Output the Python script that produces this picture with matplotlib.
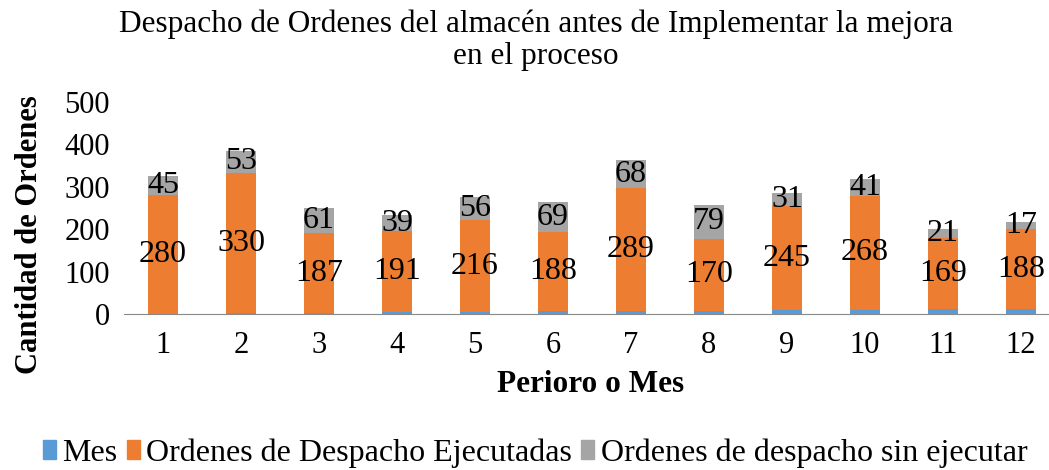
import matplotlib.pyplot as plt
import numpy as np
from matplotlib.patches import Patch

meses = np.arange(1, 13)
ejecutadas = [280, 330, 187, 191, 216, 188, 289, 170, 245, 268, 169, 188]
sin_ejecutar = [45, 53, 61, 39, 56, 69, 68, 79, 31, 41, 21, 17]
tick_labels = [str(m) for m in meses]

COLORS = {"mes": "#5B9BD5", "ejec": "#ED7D31", "sin": "#A5A5A5", "ink": "#000000"}

plt.rcParams.update({"font.family": ["Liberation Serif", "DejaVu Serif"]})

fig = plt.figure(figsize=(10.49, 4.70), dpi=100)
ax = fig.add_axes([124 / 1049, 156 / 470, 925 / 1049, 212 / 470])

width = 0.39
ax.bar(meses, meses, width, color=COLORS["mes"], label="Mes")
ax.bar(meses, ejecutadas, width, bottom=meses, color=COLORS["ejec"],
       label="Ordenes de Despacho Ejecutadas")
bottom2 = np.array(meses) + np.array(ejecutadas)
ax.bar(meses, sin_ejecutar, width, bottom=bottom2, color=COLORS["sin"],
       label="Ordenes de despacho sin ejecutar")

for x, b, v in zip(meses, meses, ejecutadas):
    ax.text(x, b + v / 2, str(v), ha="center", va="center", fontsize=23)
for x, b, v in zip(meses, bottom2, sin_ejecutar):
    ax.text(x, b + v / 2, str(v), ha="center", va="center", fontsize=23)

ax.set_xlim(0.5, 0.5 + 925 / 78)
ax.set_ylim(0, 500)
ax.set_yticks(range(0, 501, 100))
ax.set_xticks(meses, labels=tick_labels)
ax.tick_params(axis="both", length=0, labelsize=22)
ax.tick_params(axis="x", pad=12)
ax.tick_params(axis="y", pad=10)
for side in ("top", "right", "left"):
    ax.spines[side].set_visible(False)
ax.spines["bottom"].set_color("#898989")

fig.text(30 / 1049, 1 - 235 / 470, "Cantidad de Ordenes", rotation=90, ha="center",
         va="center", fontsize=22, fontweight="bold")
fig.text(591 / 1049, 1 - 385 / 470, "Perioro o Mes", ha="center", va="center",
         fontsize=22.5, fontweight="bold")
fig.text(536 / 1049, 1 - 40 / 470,
         "Despacho de Ordenes del almacén antes de Implementar la mejora\nen el proceso",
         ha="center", va="center", fontsize=22.5, linespacing=1.12)

handles = [Patch(color=COLORS["mes"]), Patch(color=COLORS["ejec"]), Patch(color=COLORS["sin"])]
labels = ["Mes", "Ordenes de Despacho Ejecutadas", "Ordenes de despacho sin ejecutar"]
fig.legend(handles, labels, loc="center", bbox_to_anchor=(535 / 1049, 1 - 453 / 470),
           ncol=3, frameon=False, fontsize=23, handlelength=0.4, handleheight=0.5,
           handletextpad=0.2, columnspacing=0.3, borderaxespad=0)

fig.savefig("out.png", dpi=100)
